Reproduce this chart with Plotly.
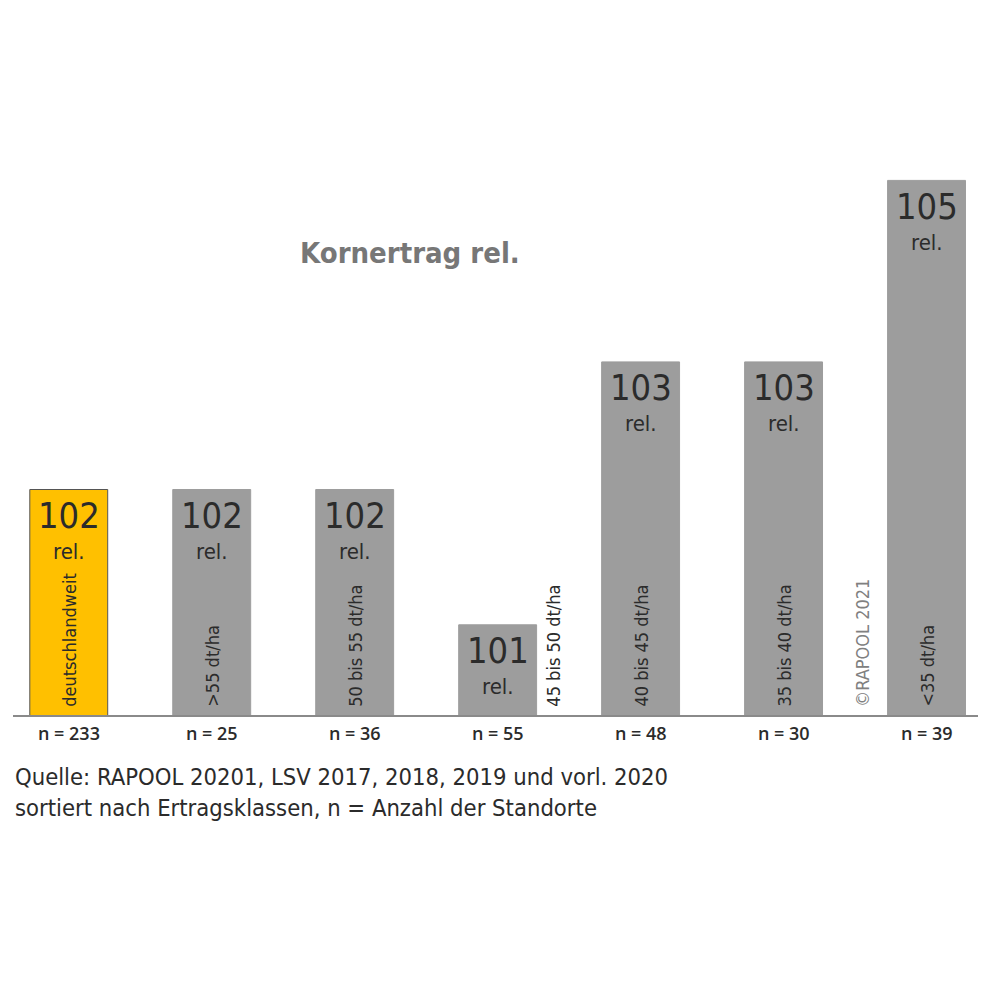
import plotly.graph_objects as go

# Yield classes (bar labels), relative grain yield and number of sites
classes = ["deutschlandweit", ">55 dt/ha", "50 bis 55 dt/ha", "45 bis 50 dt/ha",
           "40 bis 45 dt/ha", "35 bis 40 dt/ha", "<35 dt/ha"]
rel_yield = [102.05, 102.05, 102.05, 100.82, 103.21, 103.21, 104.86]
n_sites = [233, 25, 36, 55, 48, 30, 39]
bar_colors = ["#FFC000", "#9D9D9D", "#9D9D9D", "#9D9D9D", "#9D9D9D", "#9D9D9D", "#9D9D9D"]
outline = ["#555555", "#9D9D9D", "#9D9D9D", "#9D9D9D", "#9D9D9D", "#9D9D9D", "#9D9D9D"]

narrow = "DejaVu Sans Condensed, sans-serif"
xs = list(range(len(classes)))

fig = go.Figure()
fig.add_trace(go.Bar(
    x=xs,
    y=rel_yield,
    width=0.545,
    marker=dict(color=bar_colors, line=dict(color=outline, width=1)),
    hoverinfo="skip",
))

ann = []
for i, (lab, v, n) in enumerate(zip(classes, rel_yield, n_sites)):
    # value + "rel." inside the top of the bar
    ann.append(dict(x=i, y=v, text=str(round(v)), showarrow=False,
                    yanchor="middle", yshift=-26,
                    font=dict(family=narrow, size=36, color="#2b2b2b")))
    ann.append(dict(x=i, y=v, text="rel.", showarrow=False,
                    yanchor="middle", yshift=-62,
                    font=dict(family=narrow, size=22, color="#2b2b2b")))
    # rotated class label (outside for the short bar)
    ann.append(dict(x=i, y=100, text=lab, showarrow=False, textangle=-90,
                    yanchor="bottom", yshift=6, xshift=55 if i == 3 else 0,
                    font=dict(family=narrow, size=18, color="#2b2b2b")))
    # number of sites below the axis
    ann.append(dict(x=i, y=100, text="n = %d" % n, showarrow=False,
                    yanchor="top", yshift=-4,
                    font=dict(family="Open Sans, sans-serif", size=18,
                              color="#2b2b2b", weight=600)))

ann.append(dict(x=5.5, y=100, text="©RAPOOL 2021", showarrow=False, textangle=-90,
                yanchor="bottom", yshift=6, xshift=7,
                font=dict(family=narrow, size=18, color="#808080")))
ann.append(dict(xref="paper", yref="paper", x=0.295, y=0.70, text="<b>Kornertrag rel.</b>",
                showarrow=False, xanchor="left", yanchor="middle",
                font=dict(family=narrow, size=29, color="#777777")))
ann.append(dict(xref="paper", yref="paper", x=0, y=-0.094,
                text="Quelle: RAPOOL 20201, LSV 2017, 2018, 2019 und vorl. 2020",
                showarrow=False, xanchor="left", yanchor="middle",
                font=dict(family=narrow, size=23.6, color="#2b2b2b")))
ann.append(dict(xref="paper", yref="paper", x=0, y=-0.141,
                text="sortiert nach Ertragsklassen, n = Anzahl der Standorte",
                showarrow=False, xanchor="left", yanchor="middle",
                font=dict(family=narrow, size=23.6, color="#2b2b2b")))

fig.update_layout(
    width=1000, height=1000,
    margin=dict(l=5, r=30, t=47, b=293),
    paper_bgcolor="white", plot_bgcolor="white",
    showlegend=False,
    annotations=ann,
)
fig.update_xaxes(range=[-0.39, 6.36], showticklabels=False, showgrid=False,
                 zeroline=False, showline=True, linecolor="#8a8a8a", linewidth=2,
                 ticks="")
fig.update_yaxes(range=[100, 106], visible=False)

fig.write_html("out.html")
